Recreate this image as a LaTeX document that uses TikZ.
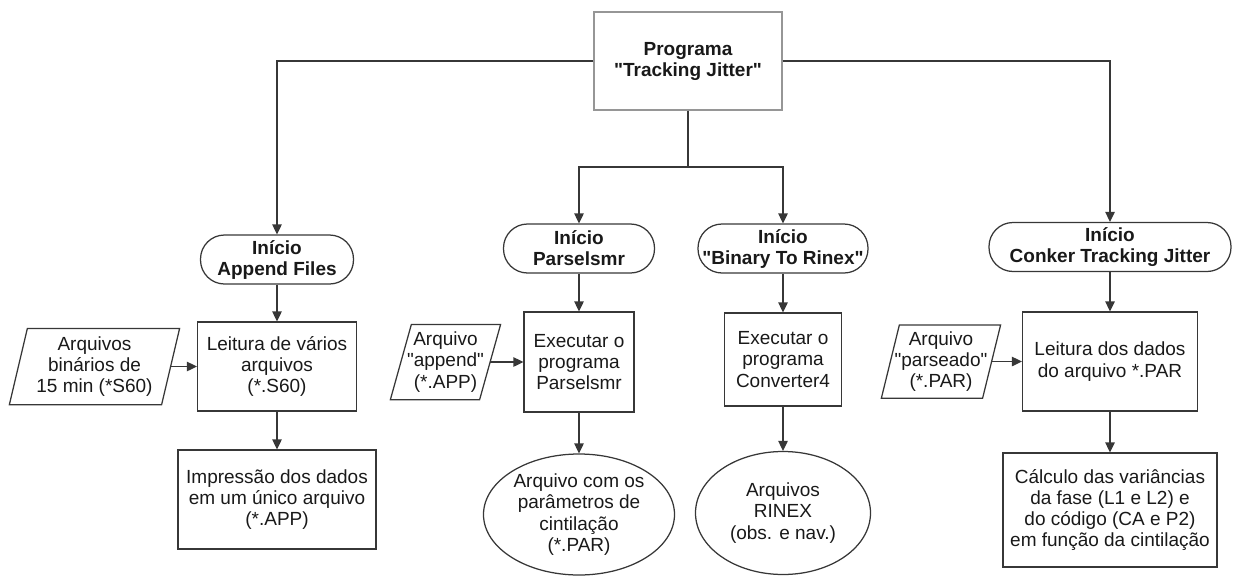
\documentclass[tikz,border=0pt]{standalone}
\usepackage{fontspec}
\setmainfont{Liberation Sans}[Ligatures=TeXOff]
\usetikzlibrary{arrows.meta,shapes.geometric}
\definecolor{ink}{RGB}{55,55,55}
\definecolor{frame}{RGB}{150,150,150}
\definecolor{txt}{RGB}{25,25,25}
\begin{document}
\begin{tikzpicture}[
  x=1pt, y=-1pt,
  font=\fontsize{19}{21.3}\selectfont, text=txt,
  line width=1.25pt,
  line/.style={draw=ink},
  arr/.style={draw=ink, -{Triangle[length=10pt,width=9.5pt]}},
  box/.style={draw=ink, rectangle, align=center, inner sep=2pt},
  term/.style={draw=ink, rectangle, rounded corners=24pt, align=center,
    font=\fontsize{19}{21}\selectfont\bfseries, inner sep=0pt, minimum height=49pt},
  oval/.style={draw=ink, ellipse, align=center, inner sep=0pt},
  io/.style={rectangle, align=center, inner sep=0pt}
]
\useasboundingbox (0,0) rectangle (1235,576);

% main program
\node[box, draw=frame, font=\fontsize{19}{21}\selectfont\bfseries,
      minimum width=188pt, minimum height=98pt] (prog) at (688,61)
      {Programa\\"Tracking Jitter"};
\coordinate (split) at (688,167);

% start terminals
\node[term, minimum width=153pt] (tApp)  at (277,259.5) {Início\\Append Files};
\node[term, minimum width=151pt] (tPars) at (579,248.5) {Início\\Parselsmr};
\node[term, minimum width=170pt] (tBin)  at (783,248.5) {Início\\"Binary To Rinex"};
\node[term, minimum width=242pt] (tConk) at (1110,247)  {Início\\Conker Tracking Jitter};

% Append Files branch
\node[box, minimum width=159pt, minimum height=89pt] (rdApp) at (277,366.5)
  {Leitura de vários\\arquivos\\(*.S60)};
\node[box, minimum width=198pt, minimum height=99pt] (prApp) at (277,499.5)
  {Impressão dos dados\\em um único arquivo\\(*.APP)};
\node[io, minimum width=151pt, minimum height=75pt] (inApp) at (94.5,366.5)
  {Arquivos\\binários de\\15 min (*S60)};
\draw[line] ([xshift=9pt]inApp.north west) -- ([xshift=9pt]inApp.north east)
  -- ([xshift=-9pt]inApp.south east) -- ([xshift=-9pt]inApp.south west) -- cycle;

% Parselsmr branch
\node[box, minimum width=110pt, minimum height=100pt] (exPars) at (579,362)
  {Executar o\\programa\\Parselsmr};
\node[oval, minimum width=191pt, minimum height=121pt] (outPars) at (579,514.5)
  {Arquivo com os\\parâmetros de\\cintilação\\(*.PAR)};
\node[io, minimum width=88pt, minimum height=74pt] (inPars) at (445.5,362)
  {Arquivo\\"append"\\(*.APP)};
\draw[line] ([xshift=10.5pt]inPars.north west) -- ([xshift=10.5pt]inPars.north east)
  -- ([xshift=-10.5pt]inPars.south east) -- ([xshift=-10.5pt]inPars.south west) -- cycle;

% Binary To Rinex branch
\node[box, minimum width=117pt, minimum height=93pt] (exBin) at (783,359.5)
  {Executar o\\programa\\Converter4};
\node[oval, minimum width=175pt, minimum height=123pt] (outBin) at (783,513)
  {Arquivos\\RINEX\\(obs. e nav.)};

% Conker Tracking Jitter branch
\node[box, minimum width=175pt, minimum height=99pt] (rdConk) at (1110,361.5)
  {Leitura dos dados\\do arquivo *.PAR};
\node[box, minimum width=214pt, minimum height=114pt] (calc) at (1110,510)
  {Cálculo das variâncias\\da fase (L1 e L2) e\\do código (CA e P2)\\em função da cintilação};
\node[io, minimum width=100pt, minimum height=72pt] (inConk) at (941,361.5)
  {Arquivo\\"parseado"\\(*.PAR)};
\draw[line] ([xshift=9pt]inConk.north west) -- ([xshift=9pt]inConk.north east)
  -- ([xshift=-9pt]inConk.south east) -- ([xshift=-9pt]inConk.south west) -- cycle;

% connectors from the main program
\draw[arr] (prog.west) -| (tApp.north);
\draw[arr] (prog.east) -| (tConk.north);
\draw[line] (prog.south) -- (split);
\draw[arr] (split) -| (tPars.north);
\draw[arr] (split) -| (tBin.north);

% flow within each branch
\draw[arr] (tApp.south) -- (rdApp.north);
\draw[arr] (rdApp.south) -- (prApp.north);
\draw[arr] (inApp.east) -- (rdApp.west);

\draw[arr] (tPars.south) -- (exPars.north);
\draw[arr] (exPars.south) -- (outPars.north);
\draw[arr] (inPars.east) -- (exPars.west);

\draw[arr] (tBin.south) -- (exBin.north);
\draw[arr] (exBin.south) -- (outBin.north);

\draw[arr] (tConk.south) -- (rdConk.north);
\draw[arr] (rdConk.south) -- (calc.north);
\draw[arr] (inConk.east) -- (rdConk.west);
\end{tikzpicture}
\end{document}
